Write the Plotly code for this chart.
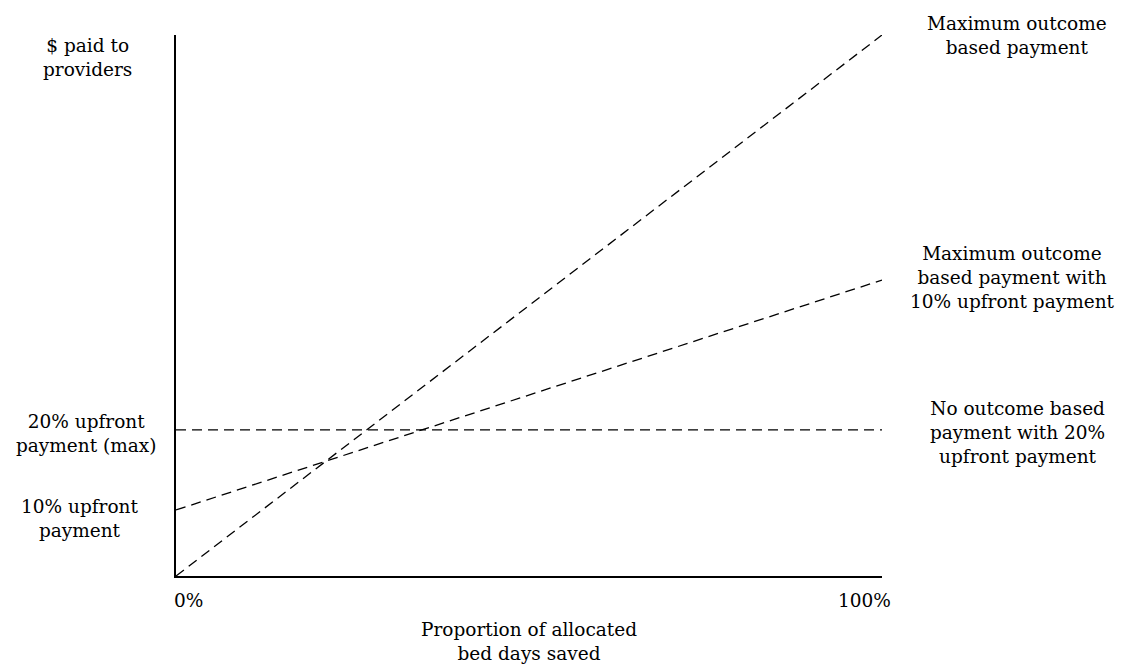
import plotly.graph_objects as go

# Data (proportion of allocated bed days saved vs $ paid, relative units)
x_vals = [0, 1]
max_outcome = [0, 1.0]
outcome_with_10 = [0.122, 0.547]
upfront_20 = [0.27, 0.27]

series_names = [
    "Maximum outcome<br>based payment",
    "Maximum outcome<br>based payment with<br>10% upfront payment",
    "No outcome based<br>payment with 20%<br>upfront payment",
]
x_tick_labels = ["0%", "100%"]
y_labels = ["$ paid to<br>providers", "20% upfront<br>payment (max)", "10% upfront<br>payment"]
x_title = "Proportion of allocated<br>bed days saved"

FONT = "DejaVu Serif"
FS = 18.5
OFF = 8  # page body margin
W, H = 1120, 658
L, T = 176 - OFF, 35 - OFF
R = W - (882 - OFF)
B = H - (576 - OFF)
pw, ph = W - L - R, H - T - B

def px(xp):
    return (xp - OFF - L) / pw

def py(yp):
    return (H - B - (yp - OFF)) / ph

fig = go.Figure()
line_style = dict(color="black", width=1.3, dash="10px,6px")
for ys in (max_outcome, outcome_with_10, upfront_20):
    fig.add_trace(go.Scatter(x=x_vals, y=ys, mode="lines", line=line_style,
                             showlegend=False, hoverinfo="skip", cliponaxis=False))

ann = []
def add(text, xp, yp, align="center"):
    ann.append(dict(text=text, x=px(xp), y=py(yp), xref="paper", yref="paper",
                    showarrow=False, align=align, xanchor="center", yanchor="middle",
                    font=dict(family=FONT, size=FS, color="black")))

add(series_names[0], 1017, 35)
add(series_names[1], 1012, 277)
add(series_names[2], 1017, 432)
add(y_labels[0], 87, 58)
add(y_labels[1], 86, 433)
add(y_labels[2], 80, 518)
add(x_tick_labels[0], 188, 600)
add(x_tick_labels[1], 864, 600)
add(x_title, 529, 641)

fig.update_layout(
    width=W, height=H,
    margin=dict(l=L, r=R, t=T, b=B),
    plot_bgcolor="white", paper_bgcolor="white",
    annotations=ann,
    font=dict(family=FONT, size=FS, color="black"),
)
fig.update_xaxes(range=[0, 1], showgrid=False, zeroline=False, showticklabels=False,
                 showline=True, linecolor="black", linewidth=2, ticks="")
fig.update_yaxes(range=[0, 1], showgrid=False, zeroline=False, showticklabels=False,
                 showline=True, linecolor="black", linewidth=2, ticks="")

fig.write_html("out.html")
